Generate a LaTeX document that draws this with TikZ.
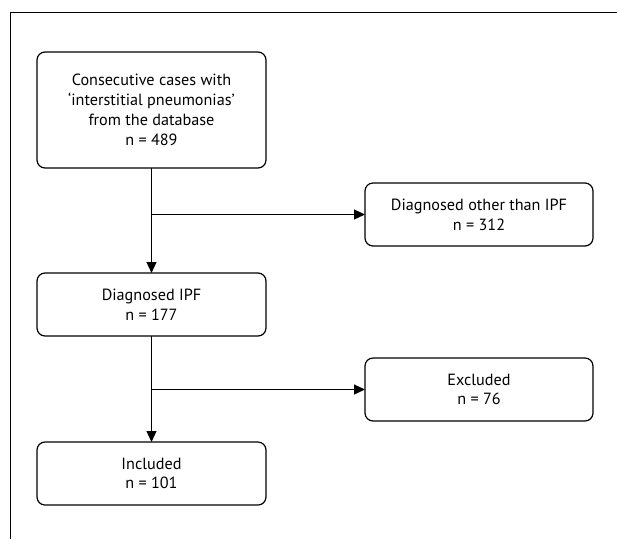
\documentclass[tikz,border=0pt]{standalone}
\usepackage{fontspec}
\setmainfont{PT Sans}
\usetikzlibrary{arrows.meta,positioning}
\tikzstyle{box}=[rectangle,draw,rounded corners=8pt,line width=1.2pt,inner sep=0pt,outer sep=0pt,align=center,minimum width=229pt,font=\fontsize{16.2}{19.8}\selectfont]
\tikzstyle{step arrow}=[-{Triangle[width=10pt,length=11pt]},line width=1.2pt]

\begin{document}
\begin{tikzpicture}[x=1pt,y=-1pt]

\useasboundingbox (0,0) rectangle (617,539) ;
\draw [line width=1pt] (617,12) -- (10,12) -- (10,539) ;

\node (cases) [box,minimum height=116pt] at (151.5,110) {Consecutive cases with\\‘interstitial pneumonias’\\from the database\\n = 489} ;
\node (ipf) [box,minimum height=63pt,below=105pt of cases] {Diagnosed IPF\\n = 177} ;
\node (incl) [box,minimum height=63pt,below=106pt of ipf] {Included\\n = 101} ;

\node (other) [box,minimum width=228pt,minimum height=63pt] at (479,214.5) {Diagnosed other than IPF\\n = 312} ;
\node (excl) [box,minimum width=228pt,minimum height=63pt] at (479,389.5) {Excluded\\n = 76} ;

\coordinate (split1) at (cases.south |- other.west) ;
\coordinate (split2) at (ipf.south |- excl.west) ;

\draw [step arrow] (cases) -- (ipf) ;
\draw [step arrow] (split1) -- (other) ;
\draw [step arrow] (ipf) -- (incl) ;
\draw [step arrow] (split2) -- (excl) ;

\end{tikzpicture}
\end{document}
